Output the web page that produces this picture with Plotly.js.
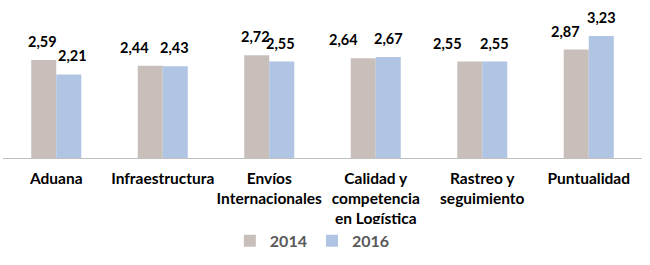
<!DOCTYPE html>
<html>
<head>
<meta charset="utf-8">
<script src="https://cdn.plot.ly/plotly-3.0.1.min.js"></script>
<style>html,body{margin:0;padding:0;background:#fff;} #chart{width:650px;height:265px;}</style>
</head>
<body>
<div id="chart"></div>
<script>
var categories = ["Aduana", "Infraestructura", "Envíos<br>Internacionales", "Calidad y<br>competencia<br>en Logística", "Rastreo y<br>seguimiento", "Puntualidad"];
var values2014 = [2.59, 2.44, 2.72, 2.64, 2.55, 2.87];
var values2016 = [2.21, 2.43, 2.55, 2.67, 2.55, 3.23];
var seriesNames = ["2014", "2016"];

// style: horizontal nudges (px) of the data labels, as placed in the original
var labelNudge2014 = [-1, -16, -1, -20, -22, -11];
var labelNudge2016 = [4, -1, -1, 0, 0, 0];

var FONT = "Lato, 'Open Sans', sans-serif";
function fmt(v) { return v.toFixed(2).replace('.', ','); }

var traces = [
  {type: 'bar', name: seriesNames[0], x: categories, y: values2014, marker: {color: '#C9BFBA'}, hoverinfo: 'none'},
  {type: 'bar', name: seriesNames[1], x: categories, y: values2016, marker: {color: '#AFC5E3'}, hoverinfo: 'none'}
];

var annotations = [];
[[values2014, labelNudge2014, -12.5], [values2016, labelNudge2016, 12.5]].forEach(function (cfg) {
  cfg[0].forEach(function (v, i) {
    annotations.push({
      x: categories[i], y: v, xref: 'x', yref: 'y',
      text: '<b>' + fmt(v) + '</b>', showarrow: false,
      xanchor: 'center', yanchor: 'bottom',
      xshift: cfg[2] + cfg[1][i], yshift: 8,
      font: {family: FONT, size: 14.5, color: '#000000'}
    });
  });
});

var layout = {
  width: 650, height: 265,
  margin: {l: 3, r: 8, t: 10, b: 107},
  paper_bgcolor: '#ffffff', plot_bgcolor: '#ffffff',
  barmode: 'group', bargap: 0.53, bargroupgap: 0,
  showlegend: true,
  legend: {orientation: 'h', x: 0.355, xanchor: 'left', y: -0.56, yanchor: 'middle',
           itemwidth: 30,
           font: {family: FONT, size: 16, color: '#595959', weight: 'bold'}},
  xaxis: {showline: true, linecolor: '#BFBFBF', linewidth: 1, ticks: '', showgrid: false, zeroline: false,
          tickangle: 0, automargin: false,
          tickfont: {family: FONT, size: 15.5, color: '#000000', weight: 'bold'}, ticklabelstandoff: 6},
  yaxis: {range: [0, 3.915], visible: false, showgrid: false, zeroline: false},
  annotations: annotations
};

Plotly.newPlot('chart', traces, layout, {displayModeBar: false, staticPlot: true});
</script>
</body>
</html>
